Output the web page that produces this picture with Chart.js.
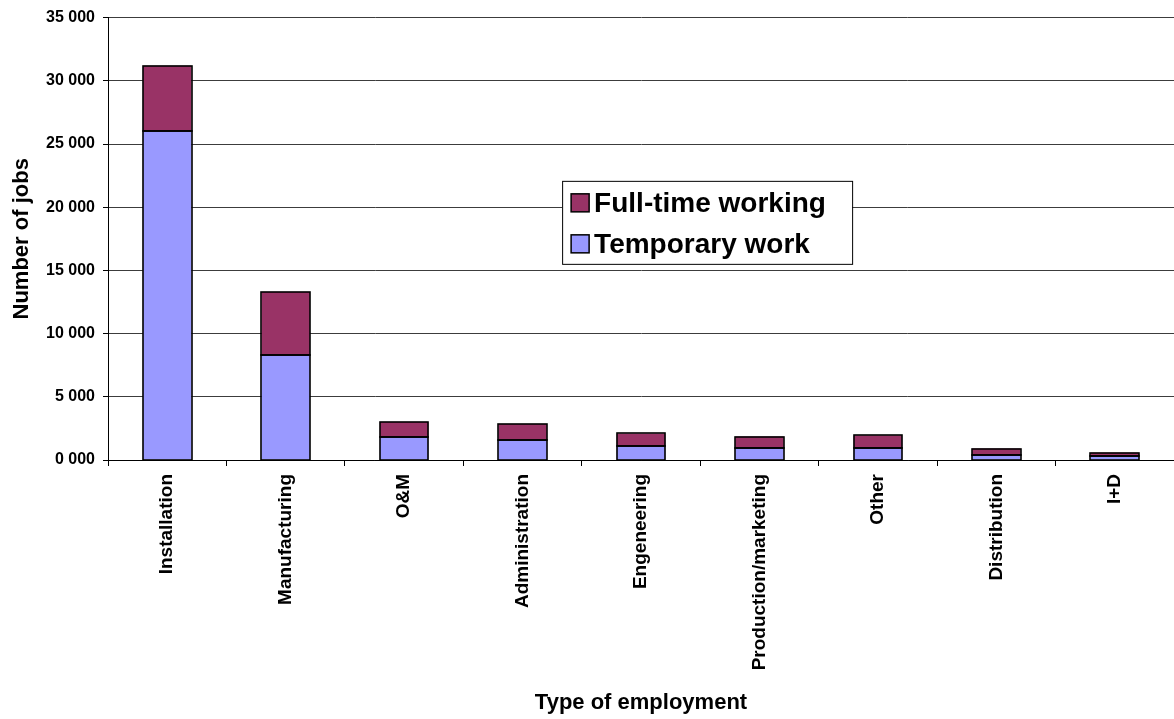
<!DOCTYPE html>
<html>
<head>
<meta charset="utf-8">
<title>Jobs by type of employment</title>
<script src="https://cdn.jsdelivr.net/npm/chart.js@4.4.1/dist/chart.umd.min.js"></script>
<style>
  html, body { margin: 0; padding: 0; background: #fff; }
  #wrap { width: 1174px; height: 719px; }
</style>
</head>
<body>
<div id="wrap"><canvas id="jobs-chart" width="1174" height="719"></canvas></div>
<script>
const categories = ['Installation', 'Manufacturing', 'O&M', 'Administration', 'Engeneering',
                    'Production/marketing', 'Other', 'Distribution', 'I+D'];
const temporaryWork   = [26000, 8300, 1800, 1600, 1100, 950, 950, 400, 300];
const fullTimeWorking = [5200, 5000, 1200, 1250, 1000, 900, 1000, 500, 280];
const yTickLabels = ['0 000', '5 000', '10 000', '15 000', '20 000', '25 000', '30 000', '35 000'];

const FONT = "'Liberation Sans', Arial, Helvetica, sans-serif";
const ctx = document.getElementById('jobs-chart');

// outline every bar segment on its edges (Chart.js insets borders, which eats thin segments)
const barOutline = {
    id: 'barOutline',
    afterDatasetsDraw(chart) {
        const c = chart.ctx;
        c.save();
        c.strokeStyle = '#000';
        c.lineWidth = 1.6;
        chart.data.datasets.forEach((ds, i) => {
            chart.getDatasetMeta(i).data.forEach((bar) => {
                const p = bar.getProps(['x', 'y', 'base', 'width'], true);
                const left = Math.round(p.x - p.width / 2);
                const right = Math.round(p.x + p.width / 2);
                const top = Math.round(Math.min(p.y, p.base));
                const bottom = Math.round(Math.max(p.y, p.base));
                c.strokeRect(left, top, right - left, bottom - top);
            });
        });
        c.restore();
    }
};

// legend drawn as a framed box sitting inside the plot area
const boxLegend = {
    id: 'boxLegend',
    afterDraw(chart) {
        const c = chart.ctx;
        const area = chart.chartArea;
        const x = area.left + 0.426 * (area.right - area.left);
        const y = area.top + 0.369 * (area.bottom - area.top);
        const w = 290, h = 83;
        c.save();
        c.fillStyle = '#fff';
        c.fillRect(x, y, w, h);
        c.strokeStyle = '#000';
        c.lineWidth = 1;
        c.strokeRect(x + 0.5, y + 0.5, w, h);
        // Full-time first, then Temporary (top of stack first)
        const items = [chart.data.datasets[1], chart.data.datasets[0]];
        c.font = 'bold 28px ' + FONT;
        c.textBaseline = 'middle';
        items.forEach((ds, i) => {
            const cy = y + 22 + i * 41;
            c.fillStyle = ds.backgroundColor;
            c.fillRect(x + 9, cy - 9, 18, 18);
            c.strokeStyle = '#000';
            c.lineWidth = 1.5;
            c.strokeRect(x + 9, cy - 9, 18, 18);
            c.fillStyle = '#000';
            c.fillText(ds.label, x + 32, cy + 1);
        });
        c.restore();
    }
};

const data = {
    labels: categories,
    datasets: [
        {
            label: 'Temporary work',
            data: temporaryWork,
            backgroundColor: '#9999ff',
            borderWidth: 0,
        },
        {
            label: 'Full-time working',
            data: fullTimeWorking,
            backgroundColor: '#993366',
            borderWidth: 0,
        },
    ]
};

const config = {
    type: 'bar',
    data: data,
    options: {
        responsive: false,
        animation: false,
        devicePixelRatio: 1,
        categoryPercentage: 0.41,
        barPercentage: 1,
        layout: { padding: { top: 16, left: 0, right: 0, bottom: 0 } },
        plugins: {
            legend: { display: false },
            tooltip: { enabled: false },
        },
        scales: {
            x: {
                stacked: true,
                afterFit: (scale) => { scale.height = 259; },
                border: { color: '#000', width: 1 },
                grid: {
                    drawOnChartArea: false,
                    offset: true,
                    tickLength: 6,
                    color: '#000',
                },
                ticks: {
                    autoSkip: false,
                    maxRotation: 90,
                    minRotation: 90,
                    padding: 8,
                    color: '#000',
                    font: { family: FONT, size: 19, weight: 'bold' },
                },
                title: {
                    display: true,
                    text: 'Type of employment',
                    color: '#000',
                    font: { family: FONT, size: 22, weight: 'bold' },
                    padding: { top: 0, bottom: 3 },
                },
            },
            y: {
                stacked: true,
                min: 0,
                max: 35000,
                afterFit: (scale) => { scale.width = 108; },
                border: { color: '#000', width: 1 },
                grid: {
                    color: '#3c3c3c',
                    tickColor: '#000',
                    tickLength: 5,
                },
                ticks: {
                    stepSize: 5000,
                    padding: 8,
                    color: '#000',
                    font: { family: FONT, size: 16, weight: 'bold' },
                    callback: (value, index) => yTickLabels[index],
                },
                title: {
                    display: true,
                    text: 'Number of jobs',
                    color: '#000',
                    font: { family: FONT, size: 22, weight: 'bold' },
                    padding: { top: 9, bottom: 0 },
                },
            },
        }
    },
    plugins: [barOutline, boxLegend],
};

new Chart(ctx, config);
</script>
</body>
</html>
